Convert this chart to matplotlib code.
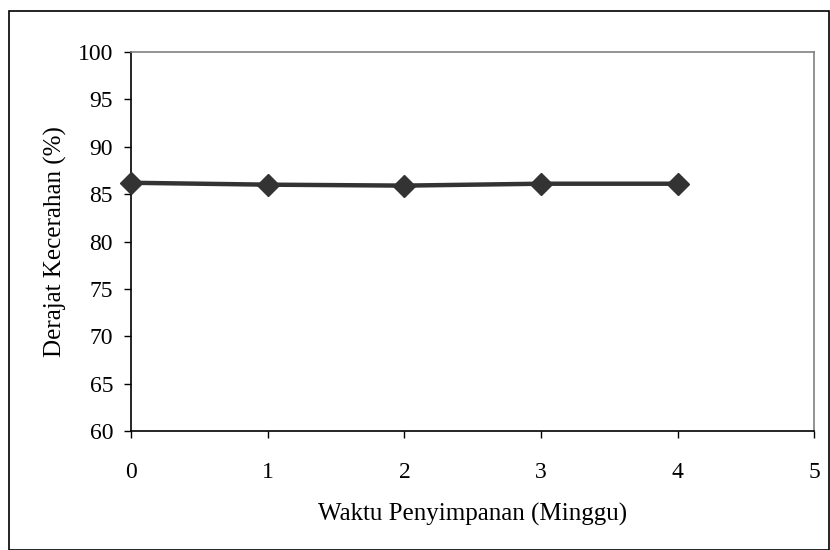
import matplotlib
matplotlib.use("Agg")
import matplotlib.pyplot as plt
from matplotlib.patches import Rectangle

weeks = [0, 1, 2, 3, 4]
brightness = [86.2, 86.0, 85.9, 86.1, 86.1]

x_ticks = [0, 1, 2, 3, 4, 5]
y_ticks = [60, 65, 70, 75, 80, 85, 90, 95, 100]

plt.rcParams["font.family"] = ["Liberation Serif", "DejaVu Serif"]

fig = plt.figure(figsize=(8.3, 5.5), dpi=100)
ax = fig.add_axes([0.158, 0.2164, 0.823, 0.689])

ax.plot(weeks, brightness, color="#333333", linewidth=3.2, marker="D",
        markersize=11.5, markerfacecolor="#333333", markeredgecolor="#333333",
        clip_on=False, zorder=3)

ax.set_xlim(0, 5)
ax.set_ylim(60, 100)
ax.set_xticks(x_ticks)
ax.set_yticks(y_ticks)
ax.tick_params(axis="both", labelsize=17, direction="out", length=5,
               width=1, colors="black")
ax.tick_params(axis="x", pad=17)
ax.tick_params(axis="y", pad=8)

ax.spines["left"].set_color("black")
ax.spines["bottom"].set_color("black")
ax.spines["top"].set_color("#808080")
ax.spines["right"].set_color("#808080")
for s in ax.spines.values():
    s.set_linewidth(1.2)

ax.set_xlabel("Waktu Penyimpanan (Minggu)", fontsize=18, labelpad=15)
ax.set_ylabel("Derajat Kecerahan (%)", fontsize=18, labelpad=8)

fig.patches.append(Rectangle((0.011, 0.0), 0.988, 0.98, transform=fig.transFigure,
                             fill=False, edgecolor="black", linewidth=1.2))

fig.savefig("out.png", dpi=100)
